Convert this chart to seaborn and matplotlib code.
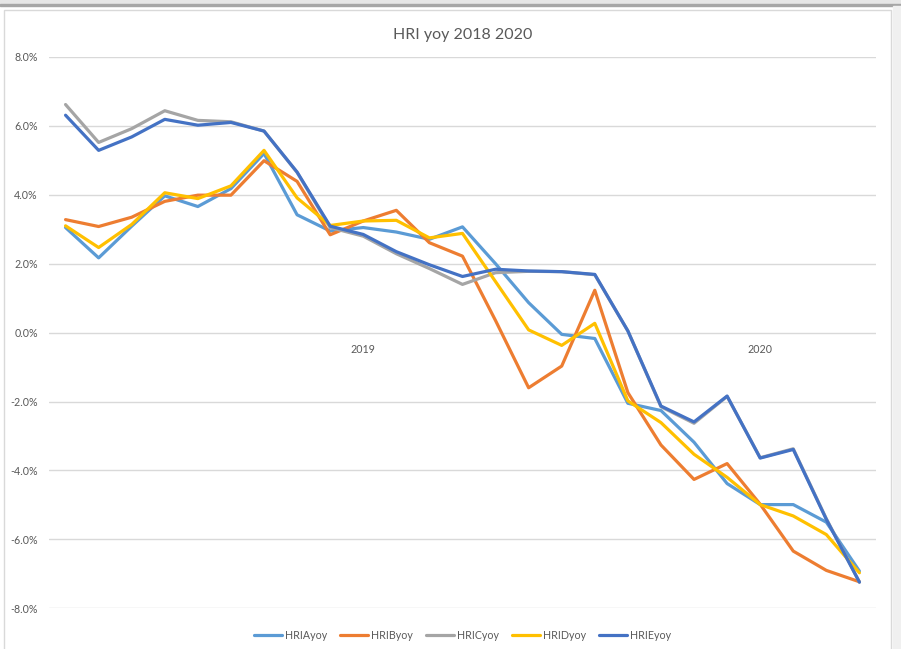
import numpy as np
import pandas as pd
import seaborn as sns
import matplotlib.pyplot as plt
from matplotlib.patches import Rectangle
from matplotlib.ticker import FuncFormatter

# monthly yoy change (%) from Apr 2018 to Apr 2020
months = pd.period_range("2018-04", "2020-04", freq="M").astype(str).tolist()

hria = [3.05, 2.17, 3.09, 3.97, 3.66, 4.18, 5.20, 3.42, 2.95, 3.05, 2.92, 2.71,
        3.07, 2.00, 0.87, -0.05, -0.17, -2.05, -2.26, -3.18, -4.38, -4.99,
        -4.99, -5.50, -6.92]
hrib = [3.28, 3.08, 3.35, 3.81, 3.99, 3.99, 4.99, 4.39, 2.84, 3.24, 3.55, 2.61,
        2.22, 0.35, -1.60, -0.97, 1.23, -1.74, -3.26, -4.26, -3.80, -4.98,
        -6.34, -6.90, -7.23]
hric = [6.62, 5.52, 5.92, 6.44, 6.16, 6.12, 5.85, 4.65, 3.05, 2.80, 2.29, 1.86,
        1.40, 1.74, 1.78, 1.77, 1.68, 0.05, -2.15, -2.63, -1.85, -3.63,
        -3.37, -5.40, -7.24]
hrid = [3.10, 2.47, 3.14, 4.06, 3.89, 4.26, 5.29, 3.91, 3.11, 3.24, 3.26, 2.75,
        2.88, 1.48, 0.08, -0.37, 0.27, -1.98, -2.61, -3.53, -4.20, -4.99,
        -5.32, -5.86, -6.97]
hrie = [6.31, 5.29, 5.68, 6.19, 6.02, 6.10, 5.85, 4.66, 3.09, 2.85, 2.35, 1.97,
        1.63, 1.84, 1.79, 1.77, 1.69, 0.05, -2.13, -2.59, -1.84, -3.64,
        -3.39, -5.42, -7.24]

series_names = ["HRIAyoy", "HRIByoy", "HRICyoy", "HRIDyoy", "HRIEyoy"]
colors = ["#5B9BD5", "#ED7D31", "#A5A5A5", "#FFC000", "#4472C4"]
year_ticks = ["2019-01", "2020-01"]
year_labels = ["2019", "2020"]


def main():
    df = pd.DataFrame({"month": months, "HRIAyoy": hria, "HRIByoy": hrib,
                       "HRICyoy": hric, "HRIDyoy": hrid, "HRIEyoy": hrie})
    df["idx"] = range(len(df))
    long = df.melt(id_vars=["month", "idx"], value_vars=series_names,
                   var_name="series", value_name="yoy")

    sns.set_theme(style="white")
    plt.rcParams["font.family"] = ["Lato", "DejaVu Sans"]

    fig = plt.figure(figsize=(9.01, 6.49), dpi=100)
    ax = fig.add_axes([0.0544, 0.0627, 0.9178, 0.8495])

    sns.lineplot(data=long, x="idx", y="yoy", hue="series",
                 hue_order=series_names, palette=colors, linewidth=2.3,
                 ax=ax, legend=True)

    ax.set_xlim(-0.5, len(months) - 0.5)
    ax.set_ylim(-8, 8)
    ax.set_yticks(np.arange(-8, 8.1, 2))
    ax.yaxis.set_major_formatter(FuncFormatter(lambda v, p: f"{v:.1f}%"))
    ax.set_xticks([months.index(m) for m in year_ticks])
    ax.set_xticklabels(year_labels)
    ax.set_xlabel("")
    ax.set_ylabel("")

    # category axis crosses at zero, like the spreadsheet chart
    ax.spines["bottom"].set_position(("data", 0))
    for s in ax.spines.values():
        s.set_visible(False)
    ax.grid(axis="y", color="#D9D9D9", linewidth=1.0)
    ax.set_axisbelow(True)
    ax.tick_params(axis="both", length=0, labelsize=7.7, labelcolor="#595959")
    ax.tick_params(axis="y", pad=8)
    ax.tick_params(axis="x", pad=8)

    ax.set_title("HRI yoy 2018 2020", fontsize=11.5, color="#595959", pad=13)

    ax.legend(loc="upper center", bbox_to_anchor=(0.5, -0.022), ncol=5,
              frameon=False, fontsize=7.7, handlelength=2.6,
              columnspacing=1.2, handletextpad=0.3, labelcolor="#595959")

    # window chrome and chart frame
    fig.patches.append(Rectangle((0, 1 - 5 / 649), 1, 5 / 649,
                                 transform=fig.transFigure,
                                 color="#E6E6E6", zorder=0))
    fig.patches.append(Rectangle((0, 1 - 6 / 649), 1, 1.5 / 649,
                                 transform=fig.transFigure,
                                 color="#A6A6A6", zorder=0))
    fig.patches.append(Rectangle((893 / 901, 0), 8 / 901, 1 - 6 / 649,
                                 transform=fig.transFigure,
                                 color="#F0F0F0", zorder=0))
    fig.patches.append(Rectangle((3.5 / 901, -0.01), 887 / 901,
                                 1 - 9.5 / 649 + 0.01,
                                 transform=fig.transFigure, fill=False,
                                 edgecolor="#D9D9D9", linewidth=1.0,
                                 zorder=0))

    fig.savefig("out.png", dpi=100)


if __name__ == "__main__":
    main()
